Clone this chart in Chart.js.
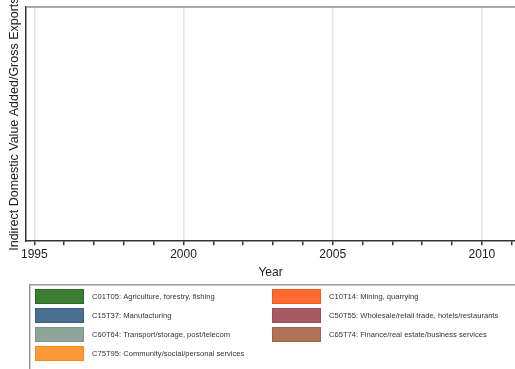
<!DOCTYPE html>
<html>
<head>
<meta charset="utf-8">
<script src="https://cdn.jsdelivr.net/npm/chart.js@4"></script>
<style>
  html, body { margin: 0; padding: 0; background: #fff; overflow: hidden; }
  #chartBox { position: relative; width: 515px; height: 369px; }
</style>
</head>
<body>
<div id="chartBox"><canvas id="exportChart"></canvas></div>
<script>
// years on the x axis
const years = [1995, 1996, 1997, 1998, 1999, 2000, 2001, 2002, 2003, 2004, 2005, 2006, 2007, 2008, 2009, 2010, 2011];
const tickYears = [1995, 1996, 1997, 1998, 1999, 2000, 2001, 2002, 2003, 2004, 2005, 2006, 2007, 2008, 2009, 2010, 2011];

// industries, in legend order (row by row, two columns)
const industries = [
  'C01T05: Agriculture, forestry, fishing',
  'C10T14: Mining, quarrying',
  'C15T37: Manufacturing',
  'C50T55: Wholesale/retail trade, hotels/restaurants',
  'C60T64: Transport/storage, post/telecom',
  'C65T74: Finance/real estate/business services',
  'C75T95: Community/social/personal services'
];

// no bars are visible in the picture: every value is missing
const agriculture   = [null, null, null, null, null, null, null, null, null, null, null, null, null, null, null, null, null];
const mining        = [null, null, null, null, null, null, null, null, null, null, null, null, null, null, null, null, null];
const manufacturing = [null, null, null, null, null, null, null, null, null, null, null, null, null, null, null, null, null];
const tradeHotels   = [null, null, null, null, null, null, null, null, null, null, null, null, null, null, null, null, null];
const transport     = [null, null, null, null, null, null, null, null, null, null, null, null, null, null, null, null, null];
const finance       = [null, null, null, null, null, null, null, null, null, null, null, null, null, null, null, null, null];
const community     = [null, null, null, null, null, null, null, null, null, null, null, null, null, null, null, null, null];

const fills   = ['#3a7d33', '#ff6a30', '#4b6f91', '#a85a64', '#8fa59a', '#b07356', '#fd9a35'];
const borders = ['#2c6a27', '#f25a20', '#3c5f80', '#955060', '#7f968b', '#9d6448', '#f08a25'];

const seriesValues = [agriculture, mining, manufacturing, tradeHotels, transport, finance, community];

const datasets = industries.map((name, i) => ({
  label: name,
  data: years.map((yr, j) => ({ x: yr, y: seriesValues[i][j] })),
  backgroundColor: fills[i],
  borderColor: borders[i],
  borderWidth: 1
}));

const FONT = '"Liberation Sans", Arial, sans-serif';

// gray frame line along the top of the plot region
const frameTop = {
  id: 'frameTop',
  afterDraw(chart) {
    const { ctx, chartArea } = chart;
    ctx.save();
    ctx.strokeStyle = '#8c8c8c';
    ctx.lineWidth = 1.5;
    ctx.beginPath();
    ctx.moveTo(chartArea.left, chartArea.top);
    ctx.lineTo(chart.width, chartArea.top);
    ctx.stroke();
    ctx.restore();
  }
};

// two-column boxed legend under the plot
const boxLegend = {
  id: 'boxLegend',
  afterDraw(chart) {
    const { ctx } = chart;
    const boxLeft = 29.75, boxTop = 284.75;
    ctx.save();
    ctx.strokeStyle = '#9a9a9a';
    ctx.lineWidth = 1.5;
    ctx.strokeRect(boxLeft, boxTop, chart.width, 120);
    ctx.font = '7.6px ' + FONT;
    ctx.textBaseline = 'middle';
    chart.data.datasets.forEach((ds, i) => {
      const col = i % 2;
      const row = Math.floor(i / 2);
      const x = col === 0 ? 35 : 272;
      const y = 289 + row * 19;
      ctx.fillStyle = ds.backgroundColor;
      ctx.fillRect(x, y, 49, 15);
      ctx.strokeStyle = ds.borderColor;
      ctx.lineWidth = 1;
      ctx.strokeRect(x + 0.5, y + 0.5, 48, 14);
      ctx.fillStyle = '#333';
      ctx.fillText(ds.label, x + 57, y + 7.8);
    });
    ctx.restore();
  }
};

Chart.defaults.font.family = FONT;
Chart.defaults.color = '#222';

const ctx = document.getElementById('exportChart').getContext('2d');
new Chart(ctx, {
  type: 'bar',
  data: { datasets },
  plugins: [frameTop, boxLegend],
  options: {
    responsive: true,
    maintainAspectRatio: false,
    animation: false,
    layout: { padding: { left: 3, top: 7, right: 0, bottom: 87 } },
    plugins: {
      legend: { display: false },
      tooltip: { enabled: false }
    },
    scales: {
      x: {
        type: 'linear',
        stacked: true,
        offset: false,
        min: 1994.72,
        max: 2011.11,
        afterBuildTicks: scale => { scale.ticks = tickYears.map(v => ({ value: v })); },
        ticks: {
          autoSkip: false,
          maxRotation: 0,
          padding: 2,
          font: { size: 12 },
          color: '#222',
          callback: v => (v % 5 === 0 ? String(v) : '')
        },
        grid: {
          offset: false,
          color: c => (c.tick && c.tick.value % 5 === 0 ? '#e6e6e6' : 'rgba(0,0,0,0)'),
          lineWidth: 1.5,
          tickColor: '#333',
          tickLength: 4,
          drawTicks: true
        },
        border: { color: '#333', width: 1.5 },
        title: { display: true, text: 'Year', font: { size: 12 }, color: '#222', padding: { top: 2, bottom: 2 } }
      },
      y: {
        stacked: true,
        min: 0,
        max: 1,
        ticks: { display: false },
        grid: { display: false, drawTicks: false },
        border: { color: '#333', width: 1.5 },
        title: {
          display: true,
          text: 'Indirect Domestic Value Added/Gross Exports',
          font: { size: 12.5 },
          color: '#222',
          padding: { top: 4, bottom: 4 }
        }
      }
    }
  }
});
</script>
</body>
</html>
